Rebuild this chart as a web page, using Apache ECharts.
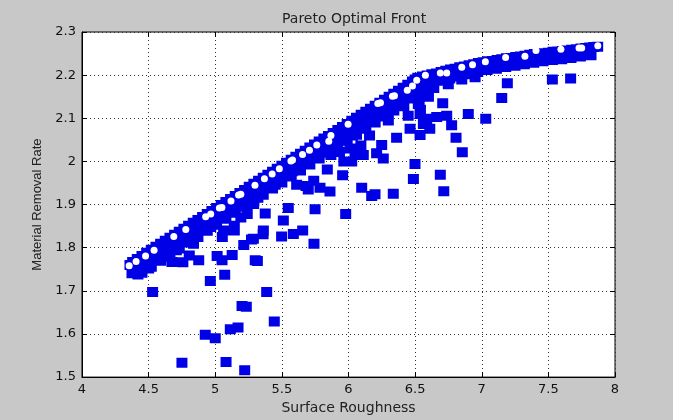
<!DOCTYPE html>
<html>
<head>
<meta charset="utf-8">
<script src="https://cdn.jsdelivr.net/npm/echarts@6/dist/echarts.min.js"></script>
<style>
  html, body { margin: 0; padding: 0; background: #c8c8c8; }
  #chart { width: 673px; height: 420px; }
</style>
</head>
<body>
<div id="chart"></div>
<script>
// axis ticks
const xTicks = [4, 4.5, 5, 5.5, 6, 6.5, 7, 7.5, 8];
const yTicks = [1.5, 1.6, 1.7, 1.8, 1.9, 2, 2.1, 2.2, 2.3];

// population (blue squares) - dense band just under the front, top row
const bandTopRow = [
    [4.36, 1.760], [4.38, 1.767], [4.45, 1.781], [4.52, 1.795], [4.59, 1.809], [4.66, 1.823],
    [4.73, 1.837], [4.80, 1.851], [4.87, 1.864], [4.94, 1.878], [5.01, 1.892], [5.08, 1.906],
    [5.15, 1.920], [5.22, 1.934], [5.29, 1.948], [5.36, 1.962], [5.43, 1.976], [5.50, 1.990],
    [5.57, 2.004], [5.64, 2.018], [5.71, 2.032], [5.78, 2.046], [5.85, 2.059], [5.92, 2.073],
    [5.99, 2.087], [6.06, 2.101], [6.13, 2.115], [6.20, 2.129], [6.27, 2.143], [6.34, 2.157],
    [6.41, 2.171], [6.48, 2.185], [6.52, 2.194], [6.59, 2.199], [6.66, 2.204], [6.73, 2.210],
    [6.80, 2.215], [6.87, 2.220], [6.94, 2.225], [7.01, 2.230], [7.08, 2.233], [7.15, 2.237],
    [7.22, 2.240], [7.29, 2.243], [7.36, 2.247], [7.43, 2.250], [7.50, 2.252], [7.57, 2.255],
    [7.64, 2.257], [7.71, 2.260], [7.78, 2.263], [7.84, 2.265]
];

// more squares packed along the upper edge of the band
const bandEdgeRow = [
    [4.415, 1.774], [4.485, 1.788], [4.555, 1.802], [4.625, 1.816], [4.695, 1.830], [4.765, 1.844],
    [4.835, 1.858], [4.905, 1.871], [4.975, 1.885], [5.045, 1.899], [5.115, 1.913], [5.185, 1.927],
    [5.255, 1.941], [5.325, 1.955], [5.395, 1.969], [5.465, 1.983], [5.535, 1.997], [5.605, 2.011],
    [5.675, 2.025], [5.745, 2.039], [5.815, 2.053], [5.885, 2.066], [5.955, 2.080], [6.025, 2.094],
    [6.095, 2.108], [6.165, 2.122], [6.235, 2.136], [6.305, 2.150], [6.375, 2.164], [6.445, 2.178],
    [6.500, 2.190], [6.555, 2.197], [6.625, 2.202], [6.695, 2.207], [6.765, 2.213], [6.835, 2.218],
    [6.905, 2.223], [6.975, 2.228], [7.045, 2.232], [7.115, 2.235], [7.185, 2.239], [7.255, 2.242],
    [7.325, 2.245], [7.395, 2.249], [7.465, 2.251], [7.535, 2.254], [7.605, 2.256], [7.675, 2.259],
    [7.745, 2.262], [7.810, 2.264], [7.870, 2.266]
];

// second row of the band
const bandMidRow = [
    [4.38, 1.748], [4.45, 1.762], [4.52, 1.776], [4.59, 1.790], [4.66, 1.804], [4.73, 1.818],
    [4.80, 1.832], [4.87, 1.845], [4.94, 1.859], [5.01, 1.873], [5.08, 1.887], [5.15, 1.901],
    [5.22, 1.915], [5.29, 1.929], [5.36, 1.943], [5.43, 1.957], [5.50, 1.971], [5.57, 1.985],
    [5.64, 1.999], [5.71, 2.013], [5.78, 2.027], [5.85, 2.040], [5.92, 2.054], [5.99, 2.068],
    [6.06, 2.082], [6.13, 2.096], [6.20, 2.110], [6.27, 2.124], [6.34, 2.138], [6.41, 2.152],
    [6.48, 2.166], [6.55, 2.178], [6.62, 2.182], [6.69, 2.187], [6.76, 2.192], [6.83, 2.197],
    [6.90, 2.202], [6.97, 2.207], [7.04, 2.212], [7.11, 2.215], [7.18, 2.219], [7.25, 2.222],
    [7.32, 2.225], [7.39, 2.229], [7.46, 2.232], [7.53, 2.235], [7.60, 2.237], [7.67, 2.240],
    [7.74, 2.243], [7.82, 2.246]
];

// third row, where the band is thicker
const bandLowRow = [
    [4.45, 1.742], [4.52, 1.756], [4.59, 1.770], [4.66, 1.784], [4.73, 1.798], [4.80, 1.812],
    [4.87, 1.825], [4.94, 1.839], [5.01, 1.853], [5.08, 1.867], [5.15, 1.881], [5.22, 1.895],
    [5.29, 1.909], [5.36, 1.923], [5.43, 1.937], [5.50, 1.951], [5.57, 1.965], [5.64, 1.979],
    [5.71, 1.993], [5.78, 2.007], [5.85, 2.020], [5.92, 2.034], [5.99, 2.048], [6.06, 2.062],
    [6.13, 2.076], [6.20, 2.090], [6.27, 2.104], [6.34, 2.118], [6.41, 2.132], [6.48, 2.146]
];

// dominated solutions scattered below the band
const scatterBelow = [
    [4.530, 1.697], [4.750, 1.533], [4.925, 1.598], [5.000, 1.590], [4.963, 1.723], [5.071, 1.737],
    [5.201, 1.665], [5.233, 1.663], [5.113, 1.611], [5.171, 1.615], [5.081, 1.535], [5.221, 1.516],
    [5.443, 1.629], [5.386, 1.697], [5.316, 1.769],
    [4.375, 1.741], [4.420, 1.738], [4.500, 1.752], [4.675, 1.767], [4.660, 1.779], [4.757, 1.766],
    [4.805, 1.782], [4.876, 1.771], [5.051, 1.771], [5.014, 1.781], [5.127, 1.783], [5.300, 1.771],
    [4.708, 1.794], [4.837, 1.809], [4.966, 1.848], [4.902, 1.840], [5.063, 1.840], [5.053, 1.825],
    [5.143, 1.840], [5.143, 1.851], [5.214, 1.806], [5.272, 1.819], [5.286, 1.821], [5.359, 1.831],
    [5.361, 1.840], [5.375, 1.879], [5.240, 1.878], [5.192, 1.870], [5.288, 1.901], [5.320, 1.916],
    [5.511, 1.863], [5.498, 1.826], [5.586, 1.832], [5.656, 1.840], [5.741, 1.809], [5.548, 1.892],
    [5.749, 1.889], [5.979, 1.878],
    [5.611, 1.946], [5.698, 1.935], [5.786, 1.939], [5.861, 1.930], [5.681, 1.943], [5.739, 1.955],
    [5.578, 1.977], [5.450, 1.946],
    [5.841, 1.981], [5.956, 1.968], [5.868, 2.015], [5.932, 2.022], [5.965, 2.000], [6.011, 2.030],
    [6.049, 2.015], [6.111, 2.015], [6.024, 2.000], [6.093, 2.037], [6.029, 2.060], [6.158, 2.060],
    [6.099, 1.939], [6.174, 1.920], [6.199, 1.924], [6.336, 1.925], [6.211, 2.019], [6.261, 2.007],
    [6.249, 2.038], [6.361, 2.055], [6.299, 2.095], [6.462, 2.076], [6.448, 2.106], [6.415, 2.128],
    [6.487, 1.959], [6.499, 1.994], [6.524, 2.133], [6.537, 2.110], [6.562, 2.087], [6.537, 2.061],
    [6.587, 2.099], [6.610, 2.076], [6.530, 2.140], [6.540, 2.120],
    [6.560, 2.160], [6.600, 2.150], [6.640, 2.170], [6.850, 2.190], [6.950, 2.195],
    [6.689, 1.969], [6.715, 1.931], [6.707, 2.135], [6.662, 2.103], [6.737, 2.106], [6.774, 2.084],
    [6.807, 2.055], [6.854, 2.021], [6.749, 2.179], [6.899, 2.110], [7.030, 2.099], [7.150, 2.147],
    [7.192, 2.181], [7.530, 2.190], [7.667, 2.192], [7.410, 2.240]
];

// non-dominated front (white circles)
const paretoFront = [
    [4.354, 1.758], [4.406, 1.768], [4.477, 1.781], [4.541, 1.794], [4.689, 1.826], [4.779, 1.842],
    [4.928, 1.872], [4.966, 1.878], [5.031, 1.892], [5.050, 1.893], [5.118, 1.908], [5.175, 1.922],
    [5.192, 1.924], [5.298, 1.945], [5.369, 1.960], [5.427, 1.971], [5.481, 1.983], [5.568, 2.001],
    [5.580, 2.003], [5.655, 2.016], [5.707, 2.026], [5.762, 2.038], [5.852, 2.047], [5.868, 2.060],
    [5.997, 2.086], [6.220, 2.134], [6.240, 2.136], [6.330, 2.151], [6.345, 2.152], [6.441, 2.165],
    [6.480, 2.175], [6.512, 2.188], [6.577, 2.200], [6.689, 2.205], [6.737, 2.205], [6.850, 2.218],
    [6.931, 2.224], [7.027, 2.231], [7.179, 2.241], [7.324, 2.244], [7.407, 2.257], [7.594, 2.260],
    [7.730, 2.263], [7.750, 2.263], [7.871, 2.268]
];

const BLUE = '#0000e6';
const FONT = '"DejaVu Sans", sans-serif';
const FONT_NARROW = '"Liberation Sans", Arial, sans-serif';

const chart = echarts.init(document.getElementById('chart'));

// all squares go in one large-mode series: drawn as a single path, so overlapping
// squares merge without anti-aliasing seams
const population = [...bandTopRow, ...bandEdgeRow, ...bandMidRow, ...bandLowRow, ...scatterBelow];

const dotted = { show: true, lineStyle: { color: '#333', type: [1, 3], width: 1 } };

chart.setOption({
    backgroundColor: '#c8c8c8',
    animation: false,
    title: {
        text: 'Pareto Optimal Front',
        left: 277,
        top: 7,
        textStyle: { fontFamily: FONT, fontSize: 14, fontWeight: 'normal', color: '#222' }
    },
    grid: {
        left: 82, right: 58, top: 32, bottom: 38,
        show: true,
        backgroundColor: '#ffffff',
        borderColor: '#000',
        borderWidth: 1
    },
    xAxis: [{
        type: 'value',
        min: 4, max: 8, interval: 0.5,
        name: 'Surface Roughness',
        nameLocation: 'middle',
        nameGap: 23,
        nameTextStyle: { fontFamily: FONT, fontSize: 14, color: '#222' },
        axisLine: { show: true, lineStyle: { color: '#000' } },
        axisTick: { show: true, inside: true, length: 5, lineStyle: { color: '#000' } },
        axisLabel: {
            fontFamily: FONT, fontSize: 13, color: '#111', margin: 6,
            formatter: v => xTicks.includes(v) ? String(v) : ''
        },
        splitLine: dotted
    }, {
        type: 'value',
        position: 'top',
        min: 4, max: 8, interval: 0.5,
        axisLine: { show: false },
        axisTick: { show: true, inside: true, length: 5, lineStyle: { color: '#000' } },
        axisLabel: { show: false },
        splitLine: { show: false }
    }],
    yAxis: [{
        type: 'value',
        min: 1.5, max: 2.3, interval: 0.1,
        name: 'Material Removal Rate',
        nameLocation: 'middle',
        nameGap: 38,
        nameTextStyle: { fontFamily: FONT_NARROW, fontSize: 13, color: '#222' },
        axisLine: { show: true, lineStyle: { color: '#000' } },
        axisTick: { show: true, inside: true, length: 5, lineStyle: { color: '#000' } },
        axisLabel: {
            fontFamily: FONT, fontSize: 13, color: '#111', margin: 6,
            formatter: v => {
                const t = yTicks.find(k => Math.abs(k - v) < 1e-6);
                return t === undefined ? '' : String(t);
            }
        },
        splitLine: dotted
    }, {
        type: 'value',
        position: 'right',
        min: 1.5, max: 2.3, interval: 0.1,
        axisLine: { show: false },
        axisTick: { show: true, inside: true, length: 5, lineStyle: { color: '#000' } },
        axisLabel: { show: false },
        splitLine: { show: false }
    }],
    series: [
        {
            name: 'population',
            type: 'scatter',
            data: population,
            symbol: 'rect',
            symbolSize: [11, 10],
            large: true,
            largeThreshold: 1,
            itemStyle: { color: BLUE, opacity: 1 },
            emphasis: { disabled: true },
            silent: true,
            z: 2
        },
        {
            name: 'front',
            type: 'scatter',
            data: paretoFront,
            symbol: 'circle',
            symbolSize: 7,
            itemStyle: { color: '#ffffff', opacity: 1, borderWidth: 0 },
            emphasis: { disabled: true },
            silent: true,
            z: 3
        }
    ]
});
</script>
</body>
</html>
